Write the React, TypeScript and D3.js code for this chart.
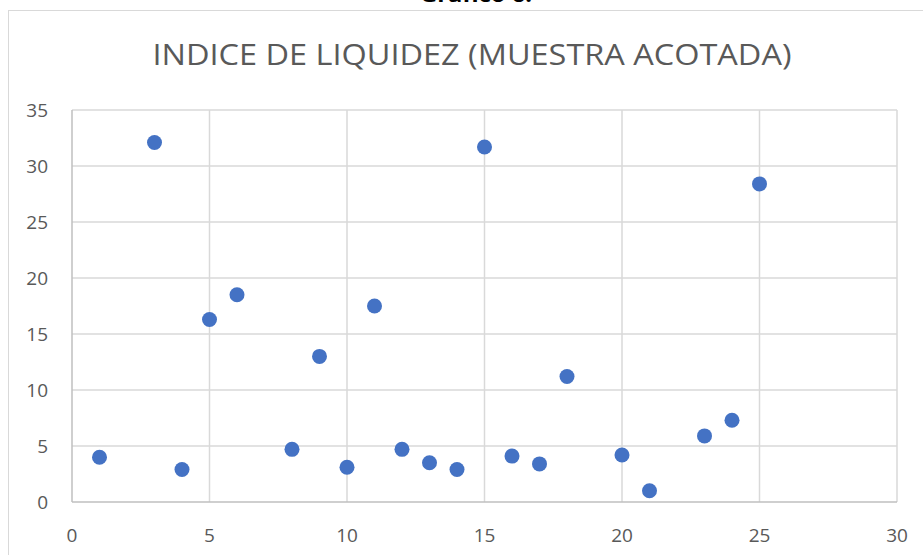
import React, { useEffect, useRef } from "react";
import * as d3 from "d3";

const title = "INDICE DE LIQUIDEZ (MUESTRA ACOTADA)";
const caption = "Gráfico 6.";
const xValues = [1, 3, 4, 5, 6, 8, 9, 10, 11, 12, 13, 14, 15, 16, 17, 18, 20, 21, 23, 24, 25];
const yValues = [4.0, 32.1, 2.9, 16.3, 18.5, 4.7, 13.0, 3.1, 17.5, 4.7, 3.5, 2.9, 31.7, 4.1, 3.4, 11.2, 4.2, 1.0, 5.9, 7.3, 28.4];
const xTicks = [0, 5, 10, 15, 20, 25, 30];
const yTicks = [0, 5, 10, 15, 20, 25, 30, 35];

const W = 923;
const H = 555;
const font = "'Open Sans', sans-serif";

export default function App() {
  const ref = useRef<SVGSVGElement>(null);

  useEffect(() => {
    const svg = d3.select(ref.current);
    svg.selectAll("*").remove();

    const x = d3.scaleLinear().domain([0, 30]).range([72, 897]);
    const y = d3.scaleLinear().domain([0, 35]).range([502, 110]);

    // chart frame
    svg.append("rect")
      .attr("x", 8.5).attr("y", 10.5)
      .attr("width", 940).attr("height", 580)
      .attr("fill", "white").attr("stroke", "#d9d9d9");

    // caption above the chart, cut by the page top as in the source
    svg.append("text")
      .attr("x", 476).attr("y", 1.5)
      .attr("text-anchor", "middle")
      .attr("font-family", font)
      .attr("font-weight", "bold")
      .attr("font-size", 19)
      .attr("fill", "#000")
      .attr("textLength", 112)
      .attr("lengthAdjust", "spacingAndGlyphs")
      .text(caption);

    svg.append("text")
      .attr("x", 472).attr("y", 65)
      .attr("text-anchor", "middle")
      .attr("font-family", font)
      .attr("font-size", 30)
      .attr("fill", "#595959")
      .attr("textLength", 639)
      .attr("lengthAdjust", "spacingAndGlyphs")
      .text(title);

    const grid = svg.append("g").attr("stroke", "#d9d9d9").attr("stroke-width", 1.5);
    grid.selectAll("line.h").data(yTicks.filter(d => d > 0)).join("line")
      .attr("x1", x(0)).attr("x2", x(30))
      .attr("y1", d => y(d)).attr("y2", d => y(d));
    grid.selectAll("line.v").data(xTicks.filter(d => d > 0)).join("line")
      .attr("class", "v")
      .attr("y1", y(0)).attr("y2", y(35))
      .attr("x1", d => x(d)).attr("x2", d => x(d));

    const axis = svg.append("g").attr("stroke", "#bfbfbf").attr("stroke-width", 1.5);
    axis.append("line").attr("x1", x(0)).attr("x2", x(0)).attr("y1", y(0)).attr("y2", y(35));
    axis.append("line").attr("x1", x(0)).attr("x2", x(30)).attr("y1", y(0)).attr("y2", y(0));

    svg.append("g").selectAll("text").data(yTicks).join("text")
      .attr("x", 48).attr("y", d => y(d) + 6.5)
      .attr("text-anchor", "end")
      .attr("font-family", font).attr("font-size", 19).attr("fill", "#595959")
      .text(d => d);

    svg.append("g").selectAll("text").data(xTicks).join("text")
      .attr("x", d => x(d)).attr("y", 542)
      .attr("text-anchor", "middle")
      .attr("font-family", font).attr("font-size", 19).attr("fill", "#595959")
      .text(d => d);

    svg.append("g").selectAll("circle").data(xValues).join("circle")
      .attr("cx", d => x(d))
      .attr("cy", (_, i) => y(yValues[i]))
      .attr("r", 7.5)
      .attr("fill", "#4472c4");
  }, []);

  return (
    <svg ref={ref} width={W} height={H}
      style={{ position: "absolute", left: 0, top: 0, background: "white" }} />
  );
}
